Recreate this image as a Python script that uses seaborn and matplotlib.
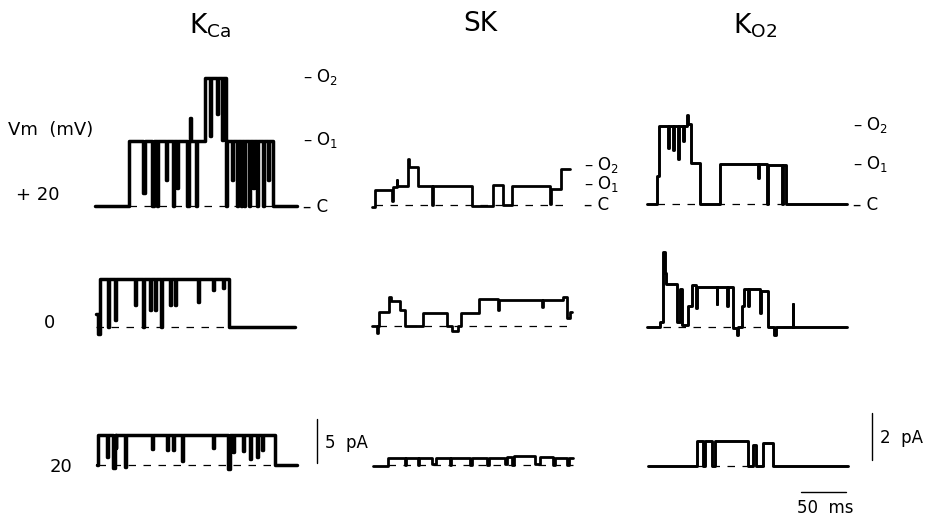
import numpy as np
import pandas as pd
import matplotlib
matplotlib.use("Agg")
import matplotlib.pyplot as plt
import seaborn as sns

# ---------------- data (time in ms, current in pA) ----------------
channels = ["KCa", "SK", "KO2"]
voltages = ["+20", "0", "-20"]

kca_p20_t = [0, 38.2, 53.9, 56.2, 64.0, 66.3, 69.7, 70.8, 79.8, 80.9, 87.6, 89.3, 92.1, 93.3, 103.4, 105.1,
             106.7, 107.9, 113.5, 114.6, 123.6, 129.2, 130.3, 137.1, 138.2, 142.7, 143.8, 147.2, 148.3, 153.9,
             155.1, 159.6, 160.7, 164.0, 165.2, 167.4, 169.1, 173.0, 174.2, 177.5, 178.7, 182.0, 183.7, 188.8,
             189.9, 194.4, 195.5, 200.0, 227.0]
kca_p20_i = [0, 7.4, 1.5, 7.4, 0, 7.4, 0, 7.4, 3, 7.4, 0, 7.4, 2, 7.4, 0, 7.4, 10, 7.4, 0, 7.4,
             14.6, 8, 14.6, 10.5, 14.6, 7.5, 14.6, 0, 7.4, 3, 7.4, 0, 7.4, 0, 7.4, 0, 7.4, 0, 7.4, 2,
             7.4, 0, 7.4, 0, 7.4, 3, 7.4, 0]

kca_0_t = [0, 1.7, 4.5, 13.5, 14.6, 21.3, 22.5, 43.8, 44.9, 52.8, 53.9, 60.7, 61.8, 66.3, 67.4, 73.0, 74.2,
           83.1, 84.3, 88.8, 89.9, 114.6, 115.7, 131.5, 132.6, 142.7, 143.8, 149.4, 223.6]
kca_0_i = [1.5, -0.8, 5.5, 0, 5.5, 0.8, 5.5, 2.5, 5.5, 0, 5.5, 1.9, 5.5, 1.9, 5.5, 0, 5.5, 2.5, 5.5, 2.5,
           5.5, 2.8, 5.5, 4.2, 5.5, 4.4, 5.5, 0]

kca_m20_t = [0, 1.1, 11.2, 12.4, 18.0, 19.7, 20.8, 21.9, 31.5, 33.1, 61.8, 62.9, 78.7, 79.8, 85.4, 86.5,
             95.5, 96.6, 130.3, 131.5, 147.2, 148.9, 152.8, 153.9, 164.0, 165.2, 172.0, 173.0, 179.8, 180.9,
             185.4, 186.5, 200.0, 224.7]
kca_m20_i = [0, 3.4, 0.9, 3.4, -0.3, 3.4, 1.9, 3.4, -0.2, 3.4, 1.8, 3.4, 1.7, 3.4, 1.7, 3.4, 0.5, 3.4,
             1.9, 3.4, -0.5, 3.4, 1.5, 3.4, 1.6, 3.4, 0.7, 3.4, 0.9, 3.4, 1.7, 3.4, 0]

sk_p20_t = [0, 3.4, 22.0, 23.2, 27.7, 28.5, 40.1, 41.5, 52.1, 67.0, 68.2, 112.7, 136.3, 147.5, 157.6,
            200.0, 201.1, 212.4, 222.5]
sk_p20_i = [-0.1, 0.65, 0.15, 0.75, 1.05, 0.8, 1.95, 1.6, 0.8, 0.0, 0.8, -0.05, 0.85, 0.0, 0.8, 0.05,
            0.7, 1.55]

sk_0_t = [0, 5.2, 6.4, 8.2, 19.5, 21.5, 31.5, 37.1, 57.7, 83.9, 89.5, 97.0, 100.0, 120.2, 142.0, 143.0,
          190.6, 191.8, 215.0, 219.4, 222.5, 224.4]
sk_0_i = [0, -0.3, 0, 0.6, 1.25, 1.05, 0.68, 0, 0.55, 0, -0.2, 0, 0.55, 1.15, 0.7, 1.1, 0.8, 1.1, 1.25,
          0.35, 0.6]

sk_m20_t = [0, 16.9, 36.0, 37.6, 50.6, 52.2, 66.3, 70.8, 86.5, 88.2, 109.0, 110.7, 128.1, 129.8, 148.3,
            150.6, 156.2, 158.4, 182.0, 187.6, 202.2, 204.5, 218.0, 219.7, 224.7]
sk_m20_i = [-0.05, 0.3, 0, 0.3, 0, 0.3, 0.05, 0.3, 0, 0.3, 0, 0.3, 0, 0.3, 0.05, 0.35, 0, 0.4, 0.05,
            0.35, 0, 0.3, 0, 0.3]

ko2_p20_t = [0, 11.6, 14.0, 23.6, 24.7, 29.2, 30.3, 34.8, 36.0, 40.4, 41.6, 44.9, 46.1, 49.4, 59.6, 82.0,
             124.7, 125.8, 134.5, 136.0, 151.3, 152.8, 155.8, 224.4]
ko2_p20_i = [0, 1.2, 3.3, 2.4, 3.3, 2.3, 3.3, 1.9, 3.3, 2.7, 3.3, 3.8, 3.4, 1.75, 0, 1.7, 1.1, 1.7, 0,
             1.65, 0, 1.65, 0]

ko2_0_t = [0, 14.6, 18.0, 19.7, 21.3, 34.0, 37.6, 38.8, 46.1, 50.0, 55.6, 56.7, 78.1, 79.2, 89.9, 91.0,
           97.0, 101.1, 102.8, 106.4, 109.0, 113.5, 114.6, 127.0, 128.1, 136.3, 142.7, 144.4, 163.5, 164.6,
           224.4]
ko2_0_i = [0, 0.2, 3.2, 2.3, 1.85, 0.2, 1.6, 0.1, 0.9, 1.8, 0.8, 1.7, 1.0, 1.7, 0.9, 1.7, -0.05, -0.35,
           0, 0.9, 1.6, 0.9, 1.6, 0.6, 1.55, 0, -0.35, 0, 1.0, 0]

ko2_m20_t = [0, 55.4, 61.5, 63.7, 71.6, 74.9, 112.7, 118.0, 121.9, 129.2, 141.0, 224.4]
ko2_m20_i = [0, 1.05, 0, 1.05, 0, 1.05, 0, 0.9, 0, 1.0, 0]

traces = {
    ("KCa", "+20"): (kca_p20_t, kca_p20_i), ("KCa", "0"): (kca_0_t, kca_0_i), ("KCa", "-20"): (kca_m20_t, kca_m20_i),
    ("SK", "+20"): (sk_p20_t, sk_p20_i), ("SK", "0"): (sk_0_t, sk_0_i), ("SK", "-20"): (sk_m20_t, sk_m20_i),
    ("KO2", "+20"): (ko2_p20_t, ko2_p20_i), ("KO2", "0"): (ko2_0_t, ko2_0_i), ("KO2", "-20"): (ko2_m20_t, ko2_m20_i),
}

row_labels = ["+ 20", "0", "20"]
scale_pA = {"KCa": 5, "KO2": 2}
scale_ms = 50

# ---------------- layout (pixels) ----------------
W, H = 929, 520
PX_PER_MS = 0.89
PX_PER_PA = {"KCa": 8.8, "SK": 23.5, "KO2": 23.5}
origin_px = {  # (x of trace start, y of closed level)
    ("KCa", "+20"): (95, 206), ("KCa", "0"): (96, 327), ("KCa", "-20"): (97, 465),
    ("SK", "+20"): (372, 205), ("SK", "0"): (372, 326), ("SK", "-20"): (373, 465),
    ("KO2", "+20"): (647, 204), ("KO2", "0"): (647, 327), ("KO2", "-20"): (648, 466),
}
TRACE_LW = {"KCa": 2.5, "SK": 2.0, "KO2": 2.1}

sns.set_theme(style="white")
plt.rcParams["font.family"] = ["DejaVu Sans"]
plt.rcParams["mathtext.fontset"] = "dejavusans"

fig = plt.figure(figsize=(W / 100, H / 100), dpi=100)
fig.patch.set_facecolor("white")

UP, DOWN, LPAD, WID = 150, 30, 10, 300
axes = {}
for key, (x0, y0) in origin_px.items():
    ch = key[0]
    ax = fig.add_axes([(x0 - LPAD) / W, 1 - (y0 + DOWN) / H, WID / W, (UP + DOWN) / H])
    ax.set_xlim(-LPAD / PX_PER_MS, (WID - LPAD) / PX_PER_MS)
    ax.set_ylim(-DOWN / PX_PER_PA[ch], UP / PX_PER_PA[ch])
    ax.set_axis_off()
    ax.patch.set_visible(False)
    axes[key] = ax

    t, i = traces[key]
    df = pd.DataFrame({"t": t, "i": list(i) + [i[-1]]})
    sns.lineplot(data=df, x="t", y="i", ax=ax, color="black", lw=TRACE_LW[ch],
                 drawstyle="steps-post", estimator=None, sort=False)
    # dashed closed-level line, from first opening to last closing
    lv = np.asarray(i, float)
    thr = 0.25 * lv.max()
    op = np.where(lv > thr)[0]
    ds, de = t[op[0]], t[op[-1] + 1]
    ax.plot([ds, de], [0, 0], color="black", lw=0.9, ls=(0, (6, 6)))

# scale bars (drawn in data units)
axk = axes[("KCa", "-20")]
axk.plot([247, 247], [0.2, 0.2 + scale_pA["KCa"]], color="black", lw=1.0, clip_on=False)
axo = axes[("KO2", "-20")]
axo.plot([251.5, 251.5], [0.26, 0.26 + scale_pA["KO2"]], color="black", lw=1.0, clip_on=False)
axo.plot([172, 172 + scale_ms], [-1.1, -1.1], color="black", lw=1.0, clip_on=False)


def ftext(x, y, s, **kw):
    kw.setdefault("va", "center")
    kw.setdefault("color", "black")
    fig.text(x / W, 1 - y / H, s, **kw)


# titles
ftext(210, 26, r"K$_{\mathrm{Ca}}$", ha="center", size=19)
ftext(480, 24, "SK", ha="center", size=19)
ftext(755, 26, r"K$_{\mathrm{O2}}$", ha="center", size=19)

# row labels
ftext(8, 130, "Vm  (mV)", ha="left", size=13)
ftext(16, 195, row_labels[0], ha="left", size=13)
ftext(50, 323, row_labels[1], ha="center", size=13)
ftext(61, 467, row_labels[2], ha="center", size=13)

# state labels
for (x, y, s) in [(303, 77, r"– O$_2$"), (303, 140, r"– O$_1$"), (303, 207, "– C"),
                  (584, 165, r"– O$_2$"), (584, 184, r"– O$_1$"), (584, 205, "– C"),
                  (853, 125, r"– O$_2$"), (853, 164, r"– O$_1$"), (853, 205, "– C")]:
    ftext(x, y, s, ha="left", size=12)

# scale labels
ftext(325, 443, f"{scale_pA['KCa']}  pA", ha="left", size=12)
ftext(880, 438, f"{scale_pA['KO2']}  pA", ha="left", size=12)
ftext(825, 508, f"{scale_ms}  ms", ha="center", size=12)

fig.savefig("out.png", dpi=100, facecolor="white")
